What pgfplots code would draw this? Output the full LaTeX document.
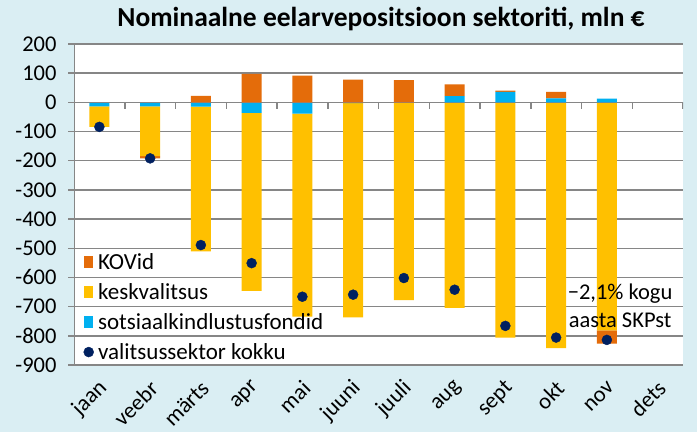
\documentclass[border=0pt]{standalone}
\usepackage{fontspec}
\setmainfont{Carlito}
\usepackage{pgfplots}
\usepackage{pgfplotstable}
\pgfplotsset{compat=1.18}
\definecolor{bgblue}{HTML}{DAEEF3}
\definecolor{kov}{HTML}{E46C0A}
\definecolor{kesk}{HTML}{FFC000}
\definecolor{sots}{HTML}{00B0F0}
\definecolor{kokku}{HTML}{002060}
\definecolor{gridgray}{HTML}{868686}

% negative and positive parts are stacked separately (as in the source chart)
\pgfplotstableread{
m  sotsN keskN kovN sotsP kovP kokku
0  -14   -70    0    0    0   -84
1  -14   -170  -8    0    0   -192
2  -15   -496   0    0    22  -489
3  -36   -610   0    0    98  -551
4  -39   -695   0    0    92  -666
5  -3    -734   0    0    78  -659
6  -2    -676   0    0    76  -602
7  0     -704   0    21   41  -642
8  0     -806   0    36   4   -766
9  0     -842   0    14   22  -806
10 0     -781  -46   13   0   -814
11 0     0      0    0    0   nan
}\eelarve

\pgfplotsset{
  common/.style={
    scale only axis, width=609pt, height=321pt,
    at={(74pt,67pt)}, anchor=south west,
    xmin=-0.5, xmax=11.5, ymin=-900, ymax=200,
  },
}

\begin{document}
\begin{tikzpicture}
\path[use as bounding box, fill=bgblue] (0,0) rectangle (697pt,432pt);
\node[font={\fontsize{27.5}{32}\selectfont\bfseries}] at (381pt,413pt)
  {Nominaalne eelarvepositsioon sektoriti, mln €};

% axis 1: frame, grid, ticks, negative parts
\begin{axis}[common,
  axis background/.style={fill=white},
  ybar stacked, bar width=0.39,
  ymajorgrids, grid style={gridgray, line width=1.5pt},
  axis line style={draw=none},
  ytick={-900,-800,...,200},
  ytick pos=left, ytick align=outside, major tick length=6pt,
  ytick style={gridgray, line width=1.5pt},
  xtick={0,...,11}, xtick style={draw=none},
  xticklabels={jaan,veebr,märts,apr,mai,juuni,juuli,aug,sept,okt,nov,dets},
  tick label style={font=\fontsize{22.5}{26}\selectfont},
  /pgf/number format/assume math mode=true,
  xticklabel style={xshift=5pt, yshift=-19pt, rotate=45, anchor=east, inner sep=1pt},
  yticklabel style={xshift=-8pt},
]
\addplot[fill=sots, draw=none] table[x=m, y=sotsN] {\eelarve};
\addplot[fill=kesk, draw=none] table[x=m, y=keskN] {\eelarve};
\addplot[fill=kov, draw=none] table[x=m, y=kovN] {\eelarve};
\draw[gridgray, line width=1.5pt] (rel axis cs:0,0) -- (rel axis cs:0,1);
\end{axis}

% axis 2: positive parts, zero line with its ticks
\begin{axis}[common, hide axis, ybar stacked, bar width=0.39]
\addplot[fill=sots, draw=none] table[x=m, y=sotsP] {\eelarve};
\addplot[fill=kov, draw=none] table[x=m, y=kovP] {\eelarve};
\draw[gridgray, line width=1.5pt] (axis cs:-0.5,0) -- (axis cs:11.5,0);
\pgfplotsinvokeforeach{-0.5,0.5,...,11.5}{
  \draw[gridgray, line width=1.5pt] (axis cs:#1,0) -- ++(0pt,-7pt);
}
\end{axis}

% axis 3: totals, legend, note
\begin{axis}[common, hide axis,
  legend cell align=left,
  legend style={at={(0.012,0.0)}, anchor=south west, fill=none, draw=none,
    font=\fontsize{23}{26}\selectfont, row sep=8.5pt, inner sep=2pt},
]
\addlegendimage{legend image code/.code={\fill[kov] (0pt,-5.5pt) rectangle (8.5pt,5.5pt); \path (12pt,0pt);}}
\addlegendentry{KOVid}
\addlegendimage{legend image code/.code={\fill[kesk] (0pt,-5.5pt) rectangle (8.5pt,5.5pt); \path (12pt,0pt);}}
\addlegendentry{keskvalitsus}
\addlegendimage{legend image code/.code={\fill[sots] (0pt,-5.5pt) rectangle (8.5pt,5.5pt); \path (12pt,0pt);}}
\addlegendentry{sotsiaalkindlustusfondid}
\addlegendimage{legend image code/.code={\fill[kokku] (4.8pt,0pt) circle (5pt); \path (12pt,0pt);}}
\addlegendentry{valitsussektor kokku}
\addplot[only marks, mark=*, mark size=5pt, color=kokku, forget plot]
  table[x=m, y=kokku] {\eelarve};
\node[font={\fontsize{22.5}{28}\selectfont}, align=center] at (axis cs:10.26,-697)
  {−2,1\% kogu\\aasta SKPst};
\end{axis}
\end{tikzpicture}
\end{document}
